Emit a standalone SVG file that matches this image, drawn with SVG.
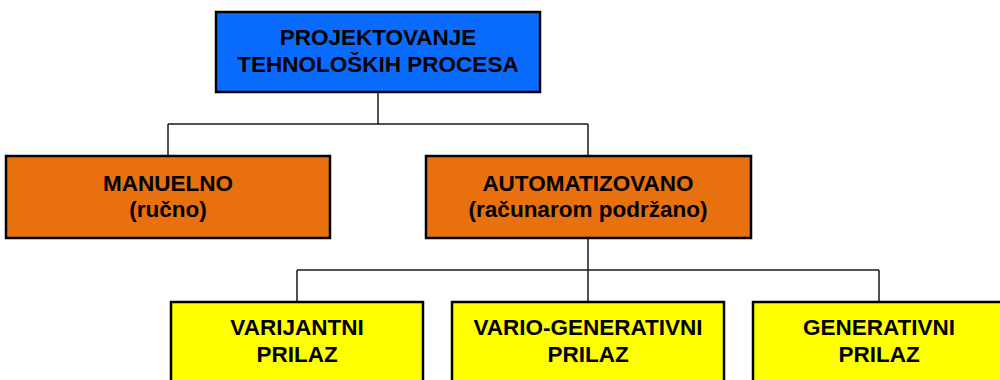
<svg xmlns="http://www.w3.org/2000/svg" width="1000" height="380" viewBox="0 0 1000 380">
<style>
.box{stroke:#000;stroke-width:2.5}
.blue{fill:#0A6CFF}
.orange{fill:#E8700F}
.yellow{fill:#FFFF00}
.t{font-family:"Liberation Sans",Arial,sans-serif;font-weight:bold;font-size:22.5px;fill:#000;text-anchor:middle}
.c{fill:none;stroke:#1a1a1a;stroke-width:1.5}
</style>
<rect width="1000" height="380" fill="#fff"/>
<g id="connectors">
<path class="c" d="M378 92V124M168 124H588M168 124V156M588 124V156"/>
<path class="c" d="M588 238V270M297 270H879M297 270V302M588 270V302M879 270V302"/>
</g>
<g id="n-root">
<rect class="box blue" x="216" y="12" width="324" height="80"/>
<text class="t" x="378" y="45">PROJEKTOVANJE</text>
<text class="t" x="378" y="72">TEHNOLOŠKIH PROCESA</text>
</g>
<g id="n-manuelno">
<rect class="box orange" x="6" y="156" width="324" height="82"/>
<text class="t" x="168" y="191">MANUELNO</text>
<text class="t" x="168" y="217">(ručno)</text>
</g>
<g id="n-automatizovano">
<rect class="box orange" x="426" y="156" width="325" height="82"/>
<text class="t" x="588" y="191">AUTOMATIZOVANO</text>
<text class="t" x="588" y="217">(računarom podržano)</text>
</g>
<g id="n-varijantni">
<rect class="box yellow" x="171" y="302" width="252" height="90"/>
<text class="t" x="297" y="335">VARIJANTNI</text>
<text class="t" x="297" y="362">PRILAZ</text>
</g>
<g id="n-vario">
<rect class="box yellow" x="452" y="302" width="272" height="90"/>
<text class="t" x="588" y="335">VARIO-GENERATIVNI</text>
<text class="t" x="588" y="362">PRILAZ</text>
</g>
<g id="n-generativni">
<rect class="box yellow" x="753" y="302" width="252" height="90"/>
<text class="t" x="879" y="335">GENERATIVNI</text>
<text class="t" x="879" y="362">PRILAZ</text>
</g>
</svg>
